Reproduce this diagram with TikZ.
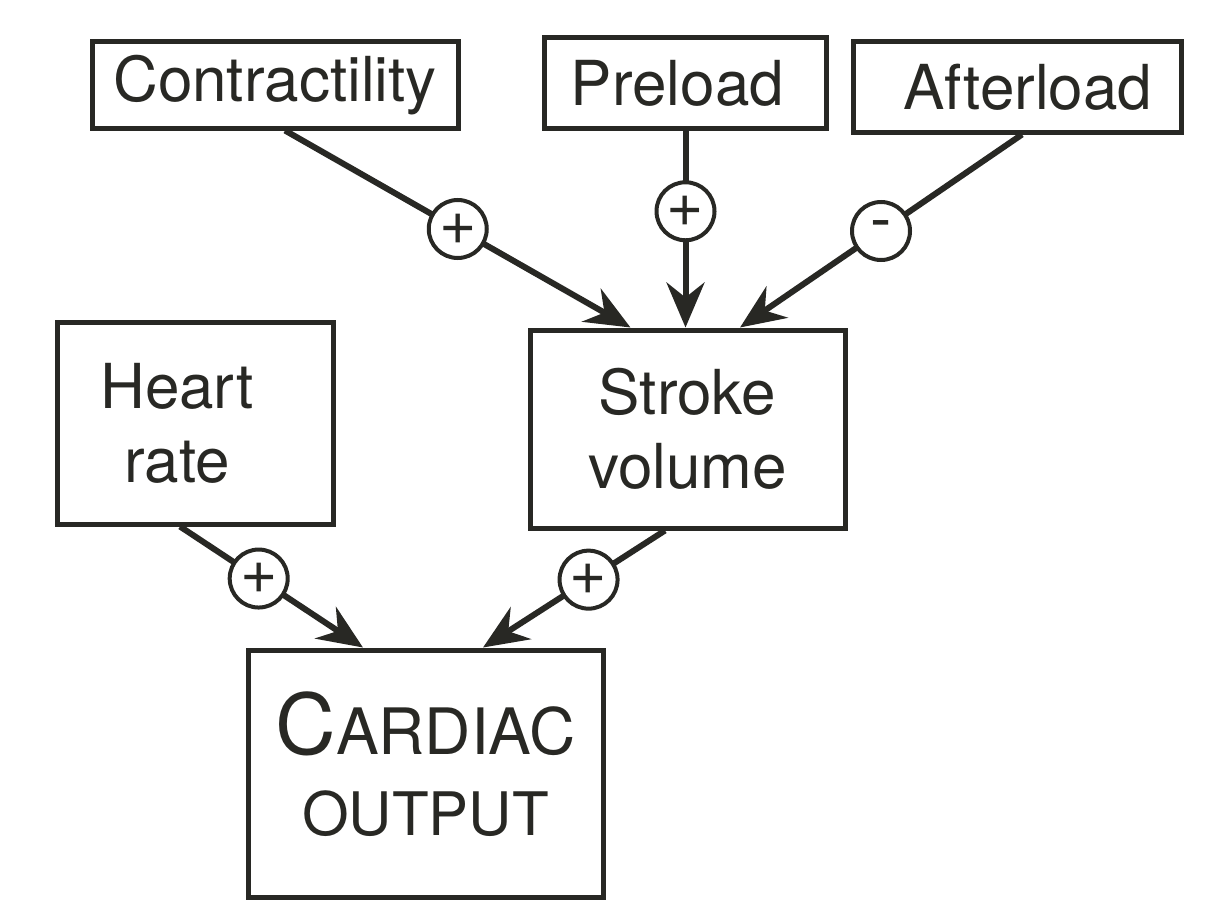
\documentclass[tikz,border=0pt]{standalone}
\usepackage{fontspec}
\setmainfont{TeX Gyre Heros}
\usetikzlibrary{arrows.meta}
\definecolor{ink}{RGB}{40,40,36}
\tikzset{
  box/.style={draw=ink, line width=5pt, fill=white, text=ink, align=center, inner sep=0pt},
  toptext/.style={font=\fontsize{62}{70}\selectfont},
  lowtext/.style={font=\fontsize{62}{74}\selectfont},
  conn/.style={draw=ink, line width=6pt, -{Stealth[length=45pt, width=38pt, inset=15pt]}},
  sign/.style={circle, draw=ink, line width=4pt, fill=white, text=ink, minimum size=58pt, inner sep=0pt, font=\fontsize{64}{64}\selectfont}
}
\begin{document}
\begin{tikzpicture}[x=1pt, y=-1pt]
\useasboundingbox (0,0) rectangle (1209,899);
\node[box, toptext, minimum width=366pt, minimum height=86pt] (contr) at (275,85) {Contractility};
\node[box, toptext, minimum width=282pt, minimum height=90pt] (pre) at (685.5,83) {Preload\hspace*{16pt}};
\node[box, toptext, minimum width=328pt, minimum height=90pt] (after) at (1017,87) {\hspace*{22pt}Afterload};
\node[box, lowtext, minimum width=276pt, minimum height=202pt] (heart) at (195,423) {Heart\hspace*{36pt}\\rate\hspace*{36pt}};
\node[box, lowtext, minimum width=315pt, minimum height=198pt] (stroke) at (687.5,429) {Stroke\\volume};
\node[box, minimum width=355pt, minimum height=247pt] (card) at (425.5,773.5) {{\fontsize{84}{84}\selectfont C}{\fontsize{64}{64}\selectfont ARDIAC}\\[34pt]{\fontsize{60}{60}\selectfont OUTPUT\rule[-20pt]{0pt}{0pt}}};
\draw[conn] ([xshift=10pt]contr.south) -- node[sign, pos=0.5]{+} ([xshift=-57pt]stroke.north);
\draw[conn] (pre.south) -- node[sign, pos=0.41]{+} (pre.south |- stroke.north);
\draw[conn] ([xshift=5pt]after.south) -- node[sign, pos=0.5]{-} ([xshift=52.5pt]stroke.north);
\draw[conn] ([xshift=-15pt]heart.south) -- node[sign, pos=0.43]{+} ([xshift=-62.5pt]card.north);
\draw[conn] ([xshift=-22.5pt]stroke.south) -- node[sign, pos=0.42]{+} ([xshift=57.5pt]card.north);
\end{tikzpicture}
\end{document}
